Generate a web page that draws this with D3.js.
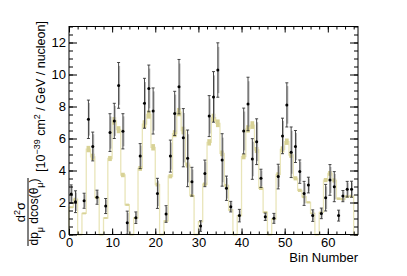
<!DOCTYPE html>
<html>
<head>
<meta charset="utf-8">
<script src="https://cdn.jsdelivr.net/npm/d3@7"></script>
<style>
  body { margin: 0; background: #fff; }
  text { font-family: "Liberation Sans", Arial, sans-serif; fill: #000; }
</style>
</head>
<body>
<script>
// bins 1..67, one entry per bin (null = no data point drawn)
var dataValues = [2.53, 2.05, null, 2.11, 7.2, 5.5, 2.33, null, 1.78, 6.37,
  7.1, 9.32, 6.45, 0.74, null, 1.05, 4.9, 8.2, 9.13, 7.72,
  2.57, null, 1.28, 4.9, 7.57, 9.24, 6.05, 4.76, 3.3, null,
  0.53, 3.82, 7.4, 8.6, 10.28, 4.66, 2.89, 1.74, null, 1.18,
  6.47, 8.16, 4.72, 5.8, 3.51, 1.11, null, 1.01, 3.62, 6.16,
  8.1, 5.14, 5.5, 3.93, 2.57, 3.09, 1.18, null, 1.32, 2.3,
  3.41, 2.99, 1.18, 2.4, 2.83, 2.83, null];
var dataErrors = [0.57, 0.68, 0, 0.47, 1.2, 0.9, 0.44, 0, 0.47, 1.18,
  1.1, 1.43, 1.1, 0.72, 0, 0.36, 0.78, 1.56, 1.46, 1.44,
  0.94, 0, 0.52, 1.0, 1.38, 1.7, 1.82, 1.77, 0.9, 0,
  0.33, 0.83, 1.28, 1.58, 1.7, 1.64, 0.76, 0.33, 0, 0.39,
  1.43, 1.67, 1.27, 1.43, 0.57, 0.23, 0, 0.31, 0.77, 1.11,
  1.38, 1.58, 1.0, 0.73, 0.75, 0.49, 0.36, 0, 0.33, 0.83,
  0.96, 0.94, 0.34, 0.35, 0.49, 0.5, 0];
var mcValues = [1.7, 2.2, 0, 1.32, 5.34, 4.85, 2.3, 0, 1.03, 4.75,
  7.1, 6.55, 3.72, 1.86, 0, 1.03, 4.13, 6.9, 7.5, 5.45,
  3.12, 0, 0.85, 3.64, 6.3, 7.65, 6.5, 4.34, 2.43, 0,
  0.8, 3.14, 5.76, 7.3, 6.95, 5.07, 3.05, 1.53, 0, 1.18,
  4.87, 6.6, 6.84, 5.28, 2.89, 1.39, 0, 0.97, 3.76, 5.32,
  5.8, 4.97, 3.51, 2.76, 2.36, 2.01, 1.32, 0, 1.38, 3.4,
  3.82, 3.38, 2.24, 2.2, 2.38, 2.4, 0];
var mcErrors = [0.06, 0.1, 0.04, 0.06, 0.2, 0.2, 0.09, 0.04, 0.05, 0.16,
  0.24, 0.22, 0.14, 0.07, 0.04, 0.05, 0.15, 0.24, 0.26, 0.2,
  0.12, 0.04, 0.04, 0.13, 0.22, 0.26, 0.24, 0.16, 0.09, 0.04,
  0.04, 0.11, 0.2, 0.25, 0.24, 0.18, 0.11, 0.07, 0.04, 0.05,
  0.17, 0.23, 0.24, 0.19, 0.11, 0.06, 0.04, 0.05, 0.13, 0.19,
  0.2, 0.18, 0.13, 0.1, 0.09, 0.07, 0.05, 0.04, 0.05, 0.13,
  0.15, 0.13, 0.08, 0.08, 0.09, 0.09, 0.04];
var xMajorTicks = [0, 10, 20, 30, 40, 50, 60];
var yMajorTicks = [0, 2, 4, 6, 8, 10, 12];

var W = 407, H = 276;
var frame = {left: 69, right: 358, top: 26.5, bottom: 234.5};

var svg = d3.select(document.body).append('svg')
    .attr('width', W)
    .attr('height', H);
svg.append('rect').attr('width', W).attr('height', H).attr('fill', '#fff');

var x = d3.scaleLinear().domain([0, 67]).range([frame.left, frame.right]),
    y = d3.scaleLinear().domain([0, 13]).range([frame.bottom, frame.top]);

var bins = d3.range(mcValues.length);

// MC step histogram (thin line)
var stepPts = [[x(0), y(0)]];
bins.forEach(function(i) {
  stepPts.push([x(i), y(mcValues[i])]);
  stepPts.push([x(i + 1), y(mcValues[i])]);
});
stepPts.push([x(bins.length), y(0)]);
svg.append('path')
    .attr('d', d3.line()(stepPts))
    .attr('fill', 'none')
    .attr('stroke', '#e9e5b9')
    .attr('stroke-width', 1.3);

// MC uncertainty band per bin
svg.selectAll('rect.band').data(bins).enter()
    .append('rect')
    .attr('class', 'band')
    .attr('x', function(i) { return x(i) + 0.3; })
    .attr('width', function(i) { return x(i + 1) - x(i) - 0.6; })
    .attr('y', function(i) { return y(mcValues[i] + mcErrors[i]); })
    .attr('height', function(i) {
      return Math.max(1.5, y(mcValues[i] - mcErrors[i]) - y(mcValues[i] + mcErrors[i]));
    })
    .attr('fill', '#d8d296');

// data points with error bars
var pts = bins.filter(function(i) { return dataValues[i] != null; });
var g = svg.append('g');
var pt = g.selectAll('g.pt').data(pts).enter().append('g').attr('class', 'pt');
pt.append('rect')
    .attr('x', function(i) { return x(i + 0.5); })
    .attr('width', 1.5)
    .attr('y', function(i) { return y(dataValues[i] + 0.85 * dataErrors[i]); })
    .attr('height', function(i) { return y(dataValues[i] - 0.85 * dataErrors[i]) - y(dataValues[i] + 0.85 * dataErrors[i]); })
    .attr('fill', '#b4b4b4');
pt.append('line')
    .attr('x1', function(i) { return x(i + 0.5); })
    .attr('x2', function(i) { return x(i + 0.5); })
    .attr('y1', function(i) { return y(dataValues[i] + dataErrors[i]); })
    .attr('y2', function(i) { return y(dataValues[i] - dataErrors[i]); })
    .attr('stroke', '#333').attr('stroke-width', 0.9);
[1, -1].forEach(function(s) {
  pt.append('line')
      .attr('x1', function(i) { return x(i + 0.5) - 1.5; })
      .attr('x2', function(i) { return x(i + 0.5) + 1.5; })
      .attr('y1', function(i) { return y(dataValues[i] + s * dataErrors[i]); })
      .attr('y2', function(i) { return y(dataValues[i] + s * dataErrors[i]); })
      .attr('stroke', '#333').attr('stroke-width', 0.9);
});
pt.append('circle')
    .attr('cx', function(i) { return x(i + 0.5); })
    .attr('cy', function(i) { return y(dataValues[i]); })
    .attr('r', 1.5)
    .attr('fill', '#000');

// axes, ROOT style: ticks inside, mirrored on top and right
function styleAxis(sel) {
  sel.select('.domain').remove();
  sel.selectAll('line').attr('stroke', '#000');
  sel.selectAll('text').style('font-size', '13px').attr('fill', '#000');
}
var xMinor = d3.range(0, 67, 2), yMinor = d3.range(0, 13.01, 0.5);

svg.append('g').attr('transform', 'translate(0,' + frame.bottom + ')')
    .call(d3.axisBottom(x).tickValues(xMinor).tickSize(-3).tickFormat(''))
    .call(styleAxis);
svg.append('g').attr('transform', 'translate(0,' + frame.bottom + ')')
    .call(d3.axisBottom(x).tickValues(xMajorTicks).tickSize(-6).tickPadding(3).tickFormat(d3.format('d')))
    .call(styleAxis);
svg.append('g').attr('transform', 'translate(0,' + frame.top + ')')
    .call(d3.axisTop(x).tickValues(xMinor).tickSize(-3).tickFormat(''))
    .call(styleAxis);
svg.append('g').attr('transform', 'translate(0,' + frame.top + ')')
    .call(d3.axisTop(x).tickValues(xMajorTicks).tickSize(-6).tickFormat(''))
    .call(styleAxis);

svg.append('g').attr('transform', 'translate(' + frame.left + ',0)')
    .call(d3.axisLeft(y).tickValues(yMinor).tickSize(-4).tickFormat(''))
    .call(styleAxis);
svg.append('g').attr('transform', 'translate(' + frame.left + ',0)')
    .call(d3.axisLeft(y).tickValues(yMajorTicks).tickSize(-8).tickPadding(3).tickFormat(d3.format('d')))
    .call(styleAxis);
svg.append('g').attr('transform', 'translate(' + frame.right + ',0)')
    .call(d3.axisRight(y).tickValues(yMinor).tickSize(-4).tickFormat(''))
    .call(styleAxis);
svg.append('g').attr('transform', 'translate(' + frame.right + ',0)')
    .call(d3.axisRight(y).tickValues(yMajorTicks).tickSize(-8).tickFormat(''))
    .call(styleAxis);

svg.append('rect')
    .attr('x', frame.left).attr('y', frame.top)
    .attr('width', frame.right - frame.left)
    .attr('height', frame.bottom - frame.top)
    .attr('fill', 'none').attr('stroke', '#000');

// x title
svg.append('text')
    .attr('x', frame.right).attr('y', 262)
    .attr('text-anchor', 'end')
    .style('font-size', '13px')
    .text('Bin Number');

// y title: fraction + units, rotated
var num = svg.append('text')
    .attr('transform', 'translate(25,212) rotate(-90)')
    .attr('text-anchor', 'middle')
    .style('font-size', '13px');
num.append('tspan').text('d');
num.append('tspan').attr('baseline-shift', 'super').style('font-size', '9px').text('2');
num.append('tspan').text('σ');

svg.append('line')
    .attr('x1', 28).attr('x2', 28)
    .attr('y1', 178).attr('y2', 246)
    .attr('stroke', '#000').attr('stroke-width', 1);

var den = svg.append('text')
    .attr('transform', 'translate(38,212) rotate(-90)')
    .attr('text-anchor', 'middle')
    .style('font-size', '12px');
den.append('tspan').text('dp');
den.append('tspan').attr('baseline-shift', 'sub').style('font-size', '9px').text('μ');
den.append('tspan').attr('baseline-shift', '0').text(' dcos(θ');
den.append('tspan').attr('baseline-shift', 'sub').style('font-size', '9px').text('μ');
den.append('tspan').attr('baseline-shift', '0').text(')');

var units = svg.append('text')
    .attr('transform', 'translate(45,172) rotate(-90)')
    .attr('text-anchor', 'start')
    .style('font-size', '12.5px');
units.append('tspan').text('[10');
units.append('tspan').attr('baseline-shift', 'super').style('font-size', '9px').text('−39');
units.append('tspan').attr('baseline-shift', '0').text(' cm');
units.append('tspan').attr('baseline-shift', 'super').style('font-size', '9px').text('2');
units.append('tspan').attr('baseline-shift', '0').text(' / GeV / nucleon]');
</script>
</body>
</html>
